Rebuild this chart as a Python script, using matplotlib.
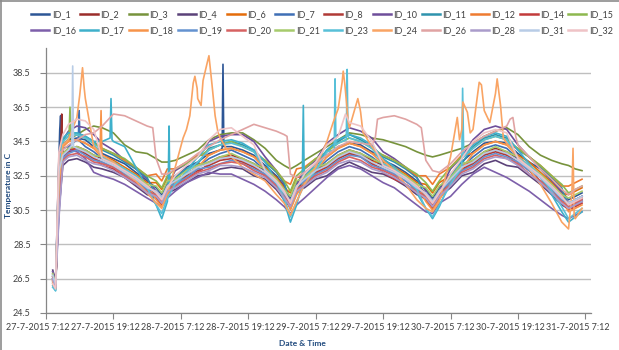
import matplotlib
matplotlib.use("Agg")
import matplotlib.pyplot as plt
from matplotlib.lines import Line2D
from matplotlib.transforms import ScaledTranslation

plt.rcParams['font.family'] = ['Lato', 'DejaVu Sans']

# ---------------- data ----------------
# hours since 27-7-2015 7:12
hours = [1.2, 1.7, 2.3, 3.0, 4.0, 5.5, 7, 8.5, 10, 12,
         14, 16, 18, 19.6, 20.6, 21.6, 23, 25, 27, 29,
         31, 33, 35, 37, 39, 41, 42.4, 43.5, 44.6, 46,
         48, 50, 52, 54, 56, 58, 60, 62, 64, 66,
         67.6, 68.8, 70, 72, 74, 76, 78, 80, 82, 84,
         86, 88, 90, 91.8, 93, 94.2, 95.4]

id_1 = [26.9, 26.3, 33.5, 34.3, 34.6, 34.7, 34.6, 34.2, 33.8, 33.5,
        33.2, 32.7, 32.2, 31.8, 31.4, 32.1, 32.5, 33.0, 33.3, 33.8,
        34.0, 34.2, 34.0, 33.7, 33.1, 32.5, 31.9, 31.2, 32.1, 32.6,
        33.2, 33.7, 34.2, 34.4, 34.3, 33.9, 33.4, 33.1, 32.7, 32.2,
        31.7, 31.2, 31.8, 32.6, 33.3, 33.9, 34.4, 34.5, 34.4, 33.8,
        33.3, 32.9, 32.2, 31.6, 31.1, 31.3, 31.5]
id_2 = [26.6, 26.0, 31.5, 33.8, 34.1, 34.2, 34.0, 33.7, 33.5, 33.3,
        32.8, 32.4, 31.9, 31.6, 31.2, 31.9, 32.2, 32.6, 33.0, 33.3,
        33.6, 33.7, 33.5, 33.2, 32.8, 32.1, 31.6, 31.0, 31.9, 32.3,
        32.8, 33.2, 33.7, 34.0, 33.8, 33.4, 33.1, 32.8, 32.5, 31.9,
        31.5, 31.0, 31.6, 32.3, 33.0, 33.4, 33.9, 34.1, 33.9, 33.5,
        32.9, 32.5, 31.9, 31.3, 30.9, 31.1, 31.3]
id_3 = [26.5, 26.0, 31.0, 34.2, 34.6, 34.9, 35.2, 35.4, 35.3, 35.0,
        34.3, 33.9, 33.8, 33.5, 33.3, 33.3, 33.4, 33.7, 34.0, 34.6,
        34.9, 35.0, 35.0, 34.6, 34.1, 33.4, 33.1, 32.9, 33.1, 33.4,
        33.8, 34.2, 34.6, 35.0, 34.9, 34.7, 34.6, 34.4, 34.2, 33.9,
        33.7, 33.6, 33.7, 33.9, 34.1, 34.4, 34.8, 35.1, 35.3, 34.9,
        34.2, 33.7, 33.4, 33.2, 33.1, 32.9, 32.8]
id_4 = [27.0, 26.4, 30.5, 33.1, 33.4, 33.5, 33.3, 33.0, 32.9, 32.7,
        32.4, 31.9, 31.4, 31.2, 30.9, 31.5, 31.7, 32.1, 32.5, 32.6,
        32.9, 33.0, 32.9, 32.5, 32.3, 31.7, 31.1, 30.7, 31.6, 31.8,
        32.3, 32.5, 33.0, 33.3, 33.0, 32.7, 32.6, 32.3, 31.9, 31.4,
        31.2, 30.7, 31.3, 31.8, 32.5, 32.7, 33.2, 33.4, 33.1, 33.0,
        32.5, 32.0, 31.4, 30.8, 30.6, 30.8, 31.0]
id_6 = [26.4, 25.9, 31.8, 33.7, 34.0, 34.1, 33.9, 33.6, 33.7, 33.4,
        33.0, 32.6, 32.1, 32.1, 31.7, 32.4, 32.4, 32.8, 33.2, 33.2,
        33.6, 33.6, 33.4, 33.1, 33.0, 32.4, 31.8, 31.5, 32.4, 32.5,
        33.0, 33.1, 33.6, 33.8, 33.7, 33.3, 33.3, 33.0, 32.6, 32.1,
        32.0, 31.5, 32.1, 32.5, 33.2, 33.3, 33.8, 34.0, 33.8, 33.7,
        33.3, 32.7, 32.1, 31.5, 31.4, 31.6, 31.8]
id_7 = [26.7, 26.2, 33.0, 34.1, 34.2, 34.6, 34.2, 33.9, 33.5, 33.2,
        32.8, 32.4, 31.9, 31.4, 31.0, 31.7, 32.2, 32.6, 33.0, 33.5,
        33.8, 34.0, 33.7, 33.4, 32.8, 32.2, 31.6, 30.8, 31.7, 32.3,
        32.8, 33.4, 33.9, 34.2, 34.0, 33.6, 33.1, 32.7, 32.4, 31.9,
        31.3, 30.8, 31.4, 32.3, 33.0, 33.6, 34.1, 34.3, 34.1, 33.5,
        33.0, 32.5, 32.0, 31.3, 30.7, 30.9, 31.1]
id_8 = [26.5, 26.1, 30.8, 33.6, 33.9, 34.0, 33.8, 33.5, 33.3, 33.0,
        32.6, 32.3, 31.7, 31.5, 31.1, 31.8, 32.0, 32.5, 32.8, 33.1,
        33.4, 33.5, 33.3, 33.0, 32.6, 32.0, 31.5, 30.9, 31.8, 32.1,
        32.7, 33.0, 33.5, 33.8, 33.6, 33.2, 32.9, 32.6, 32.2, 31.7,
        31.4, 31.0, 31.5, 32.1, 32.9, 33.2, 33.7, 33.9, 33.7, 33.3,
        32.8, 32.2, 31.7, 31.1, 30.8, 31.0, 31.2]
id_10 = [26.6, 26.0, 31.2, 34.6, 35.1, 35.4, 35.3, 34.9, 34.4, 34.0,
         33.4, 32.9, 32.3, 31.6, 31.2, 31.9, 32.8, 33.2, 33.6, 34.5,
         34.8, 34.9, 34.9, 34.5, 33.6, 32.8, 32.0, 31.0, 31.9, 32.9,
         33.4, 34.4, 34.9, 35.3, 35.1, 34.7, 33.9, 33.5, 33.0, 32.4,
         31.6, 31.0, 31.6, 32.9, 33.6, 34.6, 35.2, 35.4, 35.2, 34.3,
         33.6, 33.0, 32.3, 31.5, 30.9, 31.1, 31.3]
id_11 = [26.3, 25.9, 32.5, 34.6, 35.0, 35.0, 34.8, 34.5, 34.0, 33.7,
         33.3, 32.9, 32.4, 31.3, 30.9, 31.6, 32.4, 32.9, 33.2, 34.1,
         34.3, 34.5, 34.3, 34.0, 33.3, 32.7, 32.1, 30.7, 31.6, 32.6,
         33.0, 34.0, 34.5, 34.9, 34.6, 34.2, 33.6, 33.3, 32.9, 32.4,
         31.2, 30.7, 31.3, 32.5, 33.2, 34.2, 34.7, 34.9, 34.7, 34.0,
         33.6, 33.0, 32.4, 31.8, 30.6, 30.8, 31.0]
id_12 = [26.4, 26.0, 32.8, 34.2, 34.5, 34.6, 34.4, 34.1, 34.1, 33.8,
         33.4, 33.0, 32.5, 32.6, 32.2, 32.9, 32.9, 33.3, 33.7, 33.7,
         34.0, 34.1, 33.9, 33.6, 33.4, 32.8, 32.2, 32.0, 32.9, 33.0,
         33.5, 33.6, 34.1, 34.4, 34.2, 33.8, 33.7, 33.4, 33.0, 32.5,
         32.5, 32.0, 32.6, 33.0, 33.7, 33.8, 34.3, 34.5, 34.3, 34.1,
         33.6, 33.1, 32.5, 31.9, 31.9, 32.1, 32.3]
id_14 = [26.8, 26.2, 31.6, 33.7, 34.0, 34.1, 33.9, 33.6, 33.1, 32.9,
         32.4, 32.0, 31.5, 31.2, 30.8, 31.5, 31.9, 32.4, 32.7, 33.2,
         33.5, 33.6, 33.4, 33.1, 32.5, 31.8, 31.2, 30.6, 31.5, 32.0,
         32.6, 33.1, 33.6, 33.9, 33.7, 33.3, 32.7, 32.3, 32.0, 31.5,
         31.1, 30.6, 31.2, 32.0, 32.8, 33.3, 33.8, 34.0, 33.8, 33.1,
         32.6, 32.1, 31.6, 30.9, 30.5, 30.7, 30.9]
id_15 = [26.7, 26.1, 32.2, 34.5, 34.8, 34.9, 34.7, 34.4, 34.1, 33.8,
         33.5, 33.0, 32.5, 32.2, 31.8, 32.5, 32.9, 33.2, 33.6, 34.0,
         34.3, 34.5, 34.2, 33.9, 33.4, 32.8, 32.2, 31.6, 32.5, 32.9,
         33.5, 33.9, 34.4, 34.7, 34.5, 34.1, 33.7, 33.4, 33.0, 32.6,
         32.1, 31.6, 32.2, 33.0, 33.6, 34.1, 34.6, 34.8, 34.6, 34.1,
         33.6, 33.1, 32.5, 32.0, 31.5, 31.7, 31.9]
id_16 = [26.9, 26.3, 30.2, 33.6, 34.0, 33.9, 33.5, 32.7, 32.5, 32.3,
         32.0, 31.6, 31.2, 30.9, 30.7, 31.2, 31.6, 32.1, 32.4, 32.7,
         32.6, 32.6, 32.3, 32.0, 31.6, 31.1, 30.7, 30.3, 30.8, 31.2,
         31.8, 32.4, 32.9, 33.1, 32.9, 32.5, 32.1, 31.8, 31.3, 30.8,
         30.4, 30.3, 30.9, 31.3, 32.0, 32.6, 33.0, 32.7, 32.4, 32.0,
         31.6, 31.1, 30.6, 30.2, 30.0, 30.2, 30.4]
id_17 = [26.1, 25.8, 33.5, 34.7, 35.0, 35.0, 34.8, 34.5, 34.5, 34.5,
         34.2, 33.0, 31.8, 30.8, 30.0, 31.0, 31.8, 32.8, 33.6, 34.3,
         34.5, 34.6, 34.4, 34.0, 33.3, 32.2, 31.0, 29.8, 30.8, 32.4,
         33.2, 34.0, 34.6, 34.9, 34.7, 34.3, 33.5, 33.0, 32.4, 31.5,
         30.6, 30.0, 30.7, 32.2, 33.5, 34.3, 34.8, 35.0, 34.8, 34.0,
         33.2, 32.4, 31.4, 30.4, 29.8, 30.1, 30.4]
id_18 = [26.2, 25.9, 33.0, 34.2, 34.5, 34.6, 34.4, 34.1, 33.6, 33.3,
         32.9, 32.5, 32.0, 31.1, 30.7, 31.4, 32.1, 32.6, 33.0, 33.7,
         34.0, 34.1, 33.9, 33.6, 32.9, 32.3, 31.7, 30.5, 31.4, 32.1,
         32.8, 33.6, 34.1, 34.4, 34.2, 33.8, 33.2, 32.9, 32.5, 32.0,
         31.0, 30.5, 31.1, 32.1, 32.9, 33.8, 34.3, 34.5, 34.3, 33.6,
         33.1, 32.6, 32.0, 31.4, 30.4, 30.6, 30.8]
id_19 = [26.5, 26.0, 32.6, 33.5, 33.8, 34.0, 33.7, 33.4, 33.3, 33.0,
         32.6, 32.2, 31.7, 31.6, 31.2, 31.9, 32.0, 32.4, 32.9, 33.0,
         33.2, 33.4, 33.2, 32.9, 32.6, 32.0, 31.4, 31.0, 31.9, 32.2,
         32.6, 32.9, 33.4, 33.7, 33.6, 33.1, 32.9, 32.6, 32.2, 31.7,
         31.5, 31.0, 31.6, 32.1, 32.8, 33.1, 33.6, 33.8, 33.6, 33.3,
         32.8, 32.4, 31.7, 31.1, 30.9, 31.1, 31.3]
id_20 = [26.6, 26.1, 31.0, 33.4, 33.7, 33.8, 33.6, 33.3, 33.2, 33.0,
         32.5, 32.1, 31.6, 31.4, 31.0, 31.7, 31.9, 32.3, 32.7, 32.9,
         33.2, 33.3, 33.2, 32.8, 32.5, 31.9, 31.3, 30.8, 31.7, 32.0,
         32.5, 32.8, 33.3, 33.6, 33.4, 33.0, 32.8, 32.5, 32.0, 31.6,
         31.3, 30.8, 31.4, 32.0, 32.7, 33.0, 33.5, 33.7, 33.5, 33.2,
         32.6, 32.2, 31.6, 31.0, 30.7, 30.9, 31.1]
id_21 = [26.8, 26.2, 32.4, 33.8, 34.1, 34.2, 34.0, 33.7, 33.6, 33.3,
         32.9, 32.5, 32.0, 31.9, 31.5, 32.2, 32.3, 32.8, 33.1, 33.3,
         33.6, 33.8, 33.5, 33.2, 32.9, 32.3, 31.7, 31.3, 32.2, 32.4,
         33.0, 33.2, 33.7, 34.0, 33.8, 33.5, 33.2, 32.9, 32.5, 32.0,
         31.8, 31.3, 31.9, 32.4, 33.2, 33.4, 33.9, 34.2, 33.9, 33.6,
         33.1, 32.6, 32.0, 31.4, 31.2, 31.4, 31.6]
id_23 = [26.0, 25.8, 33.2, 34.5, 34.8, 34.9, 34.7, 34.4, 33.6, 33.3,
         32.9, 32.5, 31.8, 30.8, 30.3, 31.2, 32.0, 32.7, 33.3, 34.0,
         34.3, 34.4, 34.2, 33.9, 32.9, 32.1, 31.2, 30.1, 31.0, 32.0,
         32.8, 33.9, 34.4, 34.7, 34.5, 34.1, 33.2, 32.9, 32.4, 31.7,
         30.6, 30.1, 30.8, 32.0, 33.0, 34.1, 34.6, 34.8, 34.6, 33.6,
         33.1, 32.5, 31.6, 30.7, 30.0, 30.3, 30.6]
id_24 = [26.3, 26.0, 32.0, 34.3, 34.6, 35.9, 37.0, 34.2, 33.7, 33.3,
         32.7, 32.2, 31.5, 30.9, 30.6, 31.5, 33.0, 35.2, 37.0, 39.5,
         34.7, 33.6, 33.0, 32.6, 32.2, 31.4, 30.9, 30.2, 31.0, 32.0,
         33.0, 34.5, 36.4, 35.3, 36.2, 34.2, 33.4, 32.8, 32.0, 31.1,
         30.6, 30.4, 31.0, 33.6, 35.2, 35.2, 36.3, 37.3, 34.4, 33.6,
         32.9, 32.0, 30.9, 29.8, 29.4, 30.0, 30.6]
id_26 = [26.4, 26.0, 33.8, 34.0, 34.3, 34.6, 34.9, 35.0, 35.4, 36.1,
         36.0, 35.7, 35.4, 33.5, 32.6, 32.6, 32.9, 33.3, 33.8, 34.2,
         34.6, 34.9, 35.2, 35.5, 35.3, 35.1, 34.9, 32.6, 32.4, 32.7,
         33.2, 33.7, 34.2, 34.5, 34.4, 34.3, 35.9, 36.0, 35.8, 35.5,
         33.4, 32.8, 32.7, 33.2, 33.9, 34.4, 34.8, 35.1, 35.4, 34.3,
         33.6, 32.9, 32.3, 31.7, 31.4, 31.7, 31.9]
id_28 = [26.5, 26.0, 30.0, 33.3, 33.6, 33.7, 33.4, 33.2, 33.1, 32.8,
         32.4, 32.0, 31.5, 31.3, 30.9, 31.6, 31.8, 32.2, 32.6, 32.8,
         33.1, 33.1, 33.0, 32.7, 32.4, 31.8, 31.2, 30.7, 31.6, 31.9,
         32.4, 32.7, 33.2, 33.4, 33.3, 32.9, 32.7, 32.4, 32.0, 31.5,
         31.2, 30.7, 31.3, 31.9, 32.6, 32.9, 33.4, 33.6, 33.5, 33.1,
         32.6, 32.1, 31.5, 30.9, 30.6, 30.8, 31.0]
id_31 = [26.7, 26.2, 32.8, 33.7, 34.0, 34.1, 33.9, 33.6, 33.4, 33.1,
         32.7, 32.3, 31.8, 31.6, 31.2, 31.9, 32.2, 32.6, 33.0, 33.2,
         33.5, 33.6, 33.4, 33.1, 32.7, 32.1, 31.5, 31.0, 31.9, 32.3,
         32.8, 33.1, 33.6, 33.9, 33.7, 33.3, 33.0, 32.7, 32.3, 31.8,
         31.5, 31.0, 31.6, 32.3, 33.0, 33.3, 33.8, 34.0, 33.8, 33.4,
         32.9, 32.4, 31.8, 31.2, 30.9, 31.1, 31.3]
id_32 = [26.2, 25.9, 33.9, 34.9, 35.5, 35.8, 35.7, 35.2, 33.5, 33.2,
         32.8, 32.4, 31.9, 31.5, 31.1, 31.8, 32.5, 33.1, 33.6, 34.6,
         35.2, 35.3, 34.8, 34.3, 32.8, 32.2, 31.6, 30.9, 31.8, 32.6,
         33.3, 34.3, 34.8, 35.6, 35.4, 34.5, 33.1, 32.8, 32.4, 31.9,
         31.4, 30.9, 31.5, 32.6, 33.5, 34.5, 35.0, 35.2, 35.0, 33.5,
         33.0, 32.5, 31.9, 31.3, 30.8, 31.0, 31.2]

# short-lived readings (hour, temperature) between the regular samples
spikes = {
    "ID_1": [(2.45, 35.2), (2.6, 36.0), (2.75, 34.0), (31.35, 34.1), (31.5, 39.0), (31.65, 34.2)],
    "ID_2": [(2.7, 35.0), (2.8, 36.1), (2.9, 34.2)],
    "ID_7": [(5.75, 34.6), (5.9, 36.3), (6.05, 34.5)],
    "ID_15": [(4.1, 34.8), (4.27, 36.5), (4.45, 34.9)],
    "ID_17": [(11.4, 34.7), (11.57, 37.0), (11.75, 34.6), (21.75, 32.0), (21.9, 35.4),
              (22.05, 31.8), (45.6, 32.0), (45.8, 36.6), (45.95, 32.3)],
    "ID_18": [(9.6, 33.7), (9.8, 36.3), (9.95, 33.7)],
    "ID_23": [(51.3, 34.0), (51.45, 38.15), (51.6, 34.3), (53.45, 34.6), (53.6, 38.7),
              (53.75, 34.8), (74.15, 37.6), (74.35, 33.6)],
    "ID_24": [(6.0, 37.2), (6.5, 38.8), (6.8, 37.6),
              (24.4, 34.7), (25.6, 36.0), (26.2, 37.9), (26.5, 38.3), (26.9, 37.6),
              (27.6, 36.6), (27.95, 38.05), (28.7, 39.1),
              (29.55, 37.8), (30.1, 36.0), (30.6, 35.05),
              (51.1, 35.6), (52.7, 37.95), (52.9, 38.6), (53.2, 37.8), (53.8, 35.6),
              (55.5, 37.0), (55.9, 36.4), (56.4, 35.05),
              (73.2, 35.9), (73.6, 34.6), (74.2, 36.8), (75.0, 36.2), (75.5, 35.0),
              (77.1, 37.95), (77.5, 37.8), (79.0, 35.6), (80.3, 38.15), (80.9, 36.6),
              (81.4, 34.7), (93.6, 31.5), (93.8, 34.1), (94.0, 30.2)],
    "ID_26": [(19.0, 35.3), (42.9, 34.8), (58.6, 34.7), (59.0, 35.8), (66.8, 35.3),
              (82.6, 35.8), (83.1, 35.9), (83.6, 34.8)],
    "ID_31": [(4.6, 34.3), (4.75, 38.9), (4.9, 34.2)],
    "ID_32": [(53.3, 36.1)],
}

series_names = ["ID_1", "ID_2", "ID_3", "ID_4", "ID_6", "ID_7", "ID_8", "ID_10",
                "ID_11", "ID_12", "ID_14", "ID_15", "ID_16", "ID_17", "ID_18", "ID_19",
                "ID_20", "ID_21", "ID_23", "ID_24", "ID_26", "ID_28", "ID_31", "ID_32"]
series_values = [id_1, id_2, id_3, id_4, id_6, id_7, id_8, id_10, id_11, id_12, id_14,
                 id_15, id_16, id_17, id_18, id_19, id_20, id_21, id_23, id_24, id_26,
                 id_28, id_31, id_32]

y_ticks = [24.5, 26.5, 28.5, 30.5, 32.5, 34.5, 36.5, 38.5]
x_tick_hours = [0, 12, 24, 36, 48, 60, 72, 84, 96]
x_tick_labels = ["27-7-2015 7:12", "27-7-2015 19:12", "28-7-2015 7:12", "28-7-2015 19:12",
                 "29-7-2015 7:12", "29-7-2015 19:12", "30-7-2015 7:12", "30-7-2015 19:12",
                 "31-7-2015 7:12"]

# ---------------- style ----------------
colors = {
    "ID_1": "#2D5696", "ID_2": "#9B2D2A", "ID_3": "#77933C", "ID_4": "#5B4279",
    "ID_6": "#E46C0A", "ID_7": "#3F6FB5", "ID_8": "#B03A36", "ID_10": "#6E4E9A",
    "ID_11": "#2E93AD", "ID_12": "#EE7B30", "ID_14": "#C23B3B", "ID_15": "#8DB84F",
    "ID_16": "#7D5FAA", "ID_17": "#3EB0CB", "ID_18": "#F7944A", "ID_19": "#6492D0",
    "ID_20": "#D66262", "ID_21": "#A6CB6C", "ID_23": "#58C0D8", "ID_24": "#F9A464",
    "ID_26": "#E0A3A3", "ID_28": "#AA9CCB", "ID_31": "#B8CCE6", "ID_32": "#EFC3C6",
}
text_col = "#404040"
axis_col = "#868686"
title_col = "#1F497D"

W, H = 619, 350
fig = plt.figure(figsize=(W / 100, H / 100), dpi=100)
ax = fig.add_axes([46 / W, 1 - 313 / H, 545 / W, 265 / H])

handles = {}
for name, vals in zip(series_names, series_values):
    assert len(vals) == len(hours), name
    pts = sorted(list(zip(hours, vals)) + spikes.get(name, []))
    t = [p[0] for p in pts]
    v = [p[1] for p in pts]
    ln, = ax.plot(t, v, color=colors[name], lw=1.2, solid_joinstyle='round', label=name)
    handles[name] = ln

ax.set_xlim(0, 97)
ax.set_ylim(24.5, 39.95)
ax.set_yticks(y_ticks)
ax.set_yticklabels([f"{y:.1f}" for y in y_ticks])
ax.set_xticks(x_tick_hours)
ax.set_xticklabels(x_tick_labels)
ax.yaxis.grid(True, color="#BFBFBF", lw=1.0)
ax.set_axisbelow(True)
for s in ["top", "right"]:
    ax.spines[s].set_visible(False)
for s in ["left", "bottom"]:
    ax.spines[s].set_color(axis_col)
    ax.spines[s].set_linewidth(0.9)
ax.tick_params(axis="both", colors=axis_col, labelcolor=text_col, labelsize=6.5,
               length=4, width=0.8, direction="out")
ax.tick_params(axis="y", pad=7)
ax.tick_params(axis="x", pad=3)
shift = ScaledTranslation(-8 / 100, 0, fig.dpi_scale_trans)
for lab in ax.get_xticklabels():
    lab.set_transform(lab.get_transform() + shift)

fig.text(9 / W, 1 - 185 / H, "Temperature in C", rotation=90, fontsize=6,
         fontweight="bold", color=title_col, ha="center", va="center")
fig.text(302 / W, 1 - 343 / H, "Date & Time", fontsize=6, fontweight="bold",
         color=title_col, ha="center", va="center")

row1 = series_names[:12]
row2 = series_names[12:]
order = []
for a, b in zip(row1, row2):
    order += [a, b]
leg = fig.legend([handles[n] for n in order], order, ncol=12, loc="center",
                 bbox_to_anchor=(322 / W, 1 - 22.5 / H), frameon=False, fontsize=6.5,
                 handlelength=2.0, handletextpad=0.25, columnspacing=0.5,
                 labelspacing=0.75, borderpad=0, borderaxespad=0)
for txt in leg.get_texts():
    txt.set_color(text_col)
for lh in leg.get_lines():
    lh.set_linewidth(1.8)

# outer chart frame (top and left edges visible in the reference)
fig.add_artist(Line2D([0, 1], [1 - 0.7 / H, 1 - 0.7 / H], transform=fig.transFigure,
                      color="#8C8C8C", lw=1.2))
fig.add_artist(Line2D([0.7 / W, 0.7 / W], [0, 1], transform=fig.transFigure,
                      color="#8C8C8C", lw=1.2))

fig.savefig("out.png", dpi=100)
